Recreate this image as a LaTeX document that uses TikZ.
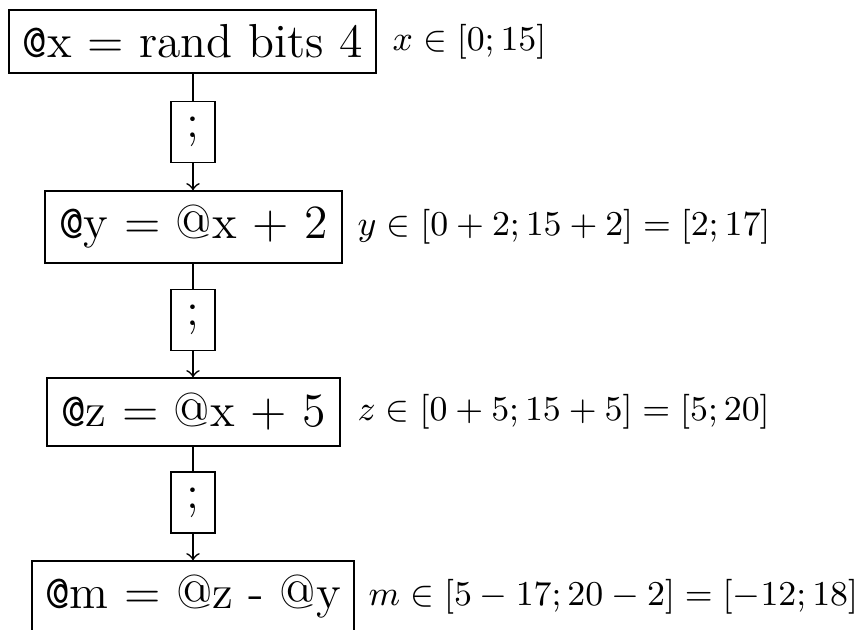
\RequirePackage{fix-cm}
\documentclass[tikz,border=0pt]{standalone}
\begin{document}
\begin{tikzpicture}[x=0.2725pt,y=-0.2725pt,
  stmt/.style={draw, line width=0.45pt, inner sep=0pt, font=\fontsize{13}{15}\selectfont},
  semi/.style={draw, line width=0.45pt, inner sep=0pt, minimum width=44*0.2725pt, minimum height=61*0.2725pt, font=\fontsize{13}{15}\selectfont},
  rangelbl/.style={anchor=west, inner sep=0pt, font=\fontsize{9.5}{12}\selectfont},
  link/.style={line width=0.45pt},
  flow/.style={line width=0.45pt, ->}]
\useasboundingbox (0,0) rectangle (863,629);
\node[stmt, minimum width=367*0.2725pt, minimum height=63*0.2725pt] (b1) at (192.5,41.5) {\texttt{@}x = rand bits 4};
\node[semi] (s1) at (193,132) {;};
\node[stmt, minimum width=297*0.2725pt, minimum height=72*0.2725pt] (b2) at (193.5,227) {\texttt{@}y = @x + 2};
\node[semi] (s2) at (193,320) {;};
\node[stmt, minimum width=293*0.2725pt, minimum height=68*0.2725pt] (b3) at (193.5,412) {\texttt{@}z = @x + 5};
\node[semi] (s3) at (193,502.5) {;};
\node[stmt, minimum width=322*0.2725pt, minimum height=72*0.2725pt] (b4) at (193,597) {\texttt{@}m = @z - @y};
\draw[link] (b1.south -| s1) -- (s1);
\draw[flow] (s1) -- (s1 |- b2.north);
\draw[link] (b2.south -| s2) -- (s2);
\draw[flow] (s2) -- (s2 |- b3.north);
\draw[link] (b3.south -| s3) -- (s3);
\draw[flow] (s3) -- (s3 |- b4.north);
\node[rangelbl] (r1) at (392,41.5) {$x \in [0;15]$};
\node[rangelbl] (r2) at (357,227) {$y \in [0+2;15+2]=[2;17]$};
\node[rangelbl] (r3) at (357,412) {$z \in [0+5;15+5]=[5;20]$};
\node[rangelbl] (r4) at (368,597) {$m \in [5-17;20-2]=[-12;18]$};
\end{tikzpicture}
\end{document}
